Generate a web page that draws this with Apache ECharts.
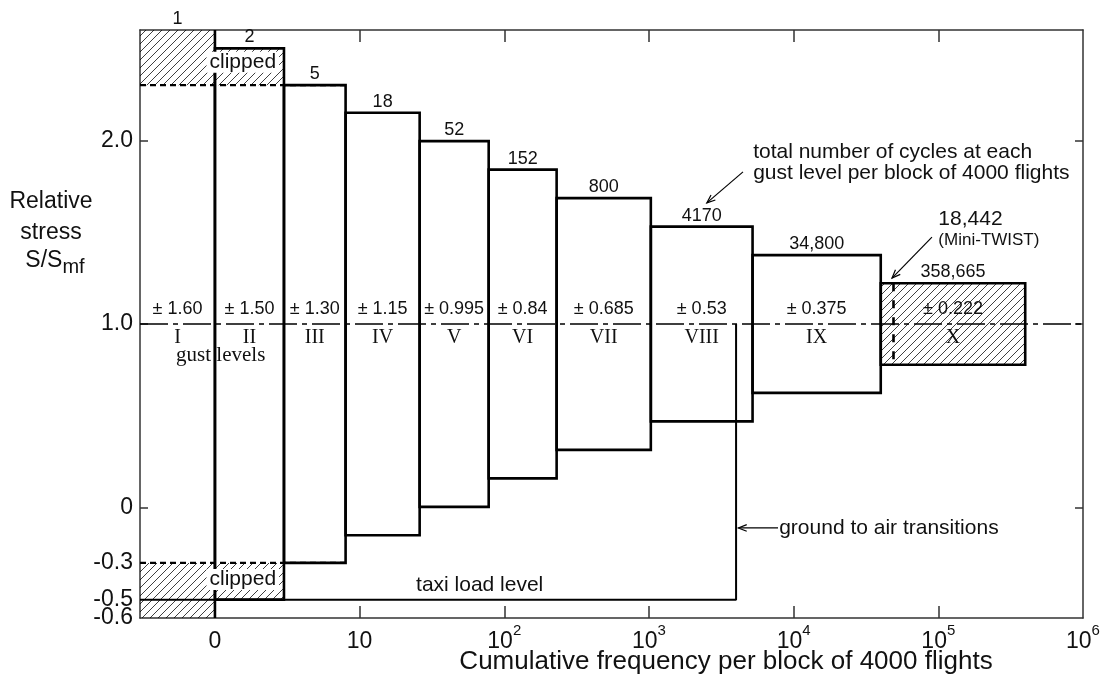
<!DOCTYPE html>
<html>
<head>
<meta charset="utf-8">
<script src="https://cdn.jsdelivr.net/npm/echarts@6/dist/echarts.min.js"></script>
<style>
  html, body { margin: 0; padding: 0; background: #fff; }
  #chart { width: 1114px; height: 682px; }
</style>
</head>
<body>
<div id="chart"></div>
<script>
// gust levels of the block, highest (I) to lowest (X)
const levels = ['I', 'II', 'III', 'IV', 'V', 'VI', 'VII', 'VIII', 'IX', 'X']
const amplitudes = [1.60, 1.50, 1.30, 1.15, 0.995, 0.84, 0.685, 0.53, 0.375, 0.222]
const ampLabels = ['± 1.60', '± 1.50', '± 1.30', '± 1.15', '± 0.995', '± 0.84', '± 0.685', '± 0.53', '± 0.375', '± 0.222']
// cycles per level in one block of 4000 flights
const cycles = [1, 2, 5, 18, 52, 152, 800, 4170, 34800, 358665]
const cycleLabels = ['1', '2', '5', '18', '52', '152', '800', '4170', '34,800', '358,665']
const meanStress = 1.0
const clipUpper = 2.3
const clipLower = -0.3
const taxiLevel = -0.5
const groundAirTransitions = 4000
const miniTwistMark = 49000 // dashed mark inside level X
const miniTwistMarkRange = [1.222, 0.8]
const hatchedLevels = ['X']

// axes (x in log10 of cumulative frequency)
const xMin = -0.518
const xMax = 6
const yMin = -0.6
const yMax = 2.6
const xLabelValues = [0, 1, 2, 3, 4, 5, 6]
const xTickValues = [1, 2, 3, 4, 5]
const yLabelValues = [-0.5, -0.3, 0, 1, 2]
const yBottomLabel = [-0.6] // on its own axis so it is not dropped as overlapping
const yTickValues = [0, 1, 2]

const SANS = 'Liberation Sans'
const SERIF = 'Liberation Serif'
const INK = '#111'

// cumulative frequency at the right edge of each level
const cumulative = []
cycles.reduce((s, c) => { cumulative.push(s + c); return s + c }, 0)

const blocks = levels.map((lv, i) => [
  i === 0 ? xMin : Math.log10(cumulative[i - 1]),
  Math.log10(cumulative[i]),
  meanStress - amplitudes[i],
  meanStress + amplitudes[i],
])

// parts of the levels that were clipped
const clippedParts = []
blocks.forEach((b) => {
  if (b[3] > clipUpper) clippedParts.push([b[0], b[1], clipUpper, b[3]])
  if (b[2] < clipLower) clippedParts.push([b[0], b[1], b[2], clipLower])
})
const clipRight = Math.max(...clippedParts.map((p) => p[1]))

// annotation placements, in axis units
const notes = [
  { text: 'total number of cycles at each\ngust level per block of 4000 flights', at: [3.72, 1.879], size: 21, align: 'left' },
  { text: '18,442', at: [5.0, 1.571], size: 21, align: 'left' },
  { text: '(Mini-TWIST)', at: [5.0, 1.457], size: 17, align: 'left' },
  { text: 'ground to air transitions', at: [3.9, -0.11], size: 21, align: 'left' },
  { text: 'taxi load level', at: [1.39, -0.42], size: 21, align: 'left' },
  { text: 'gust levels', at: [0.04, 0.83], size: 21, align: 'center', serif: true },
  { text: 'clipped', at: [(xMin + clipRight) / 2, 2.425], size: 21, align: 'center', boxed: true },
  { text: 'clipped', at: [(xMin + clipRight) / 2, -0.39], size: 21, align: 'center', boxed: true },
]
const pointers = [
  [[3.65, 1.828], [3.40, 1.659]],
  [[4.956, 1.473], [4.68, 1.25]],
  [[3.892, -0.11], [3.618, -0.11]],
]

function makeHatch() {
  const s = 8
  const c = document.createElement('canvas')
  c.width = s
  c.height = s
  const ctx = c.getContext('2d')
  ctx.strokeStyle = '#000'
  ctx.lineWidth = 0.75
  ctx.beginPath()
  ctx.moveTo(0, s); ctx.lineTo(s, 0)
  ctx.moveTo(-1, 1); ctx.lineTo(1, -1)
  ctx.moveTo(s - 1, s + 1); ctx.lineTo(s + 1, s - 1)
  ctx.stroke()
  return { image: c, repeat: 'repeat' }
}
const hatch = makeHatch()

function txt(x, y, text, size, family, align) {
  return {
    type: 'text', x, y,
    style: { text, fontSize: size, fontFamily: family, fill: INK, align: align || 'center', verticalAlign: 'middle' },
  }
}

function renderBlock(params, api) {
  const i = params.dataIndex
  const tl = api.coord([api.value(0), api.value(3)])
  const br = api.coord([api.value(1), api.value(2)])
  const cx = (tl[0] + br[0]) / 2
  const mid = api.coord([0, meanStress])[1]
  const children = []
  if (i === 0) {
    children.push({ type: 'line', shape: { x1: br[0], y1: tl[1], x2: br[0], y2: br[1] }, style: { stroke: '#000', lineWidth: 2.6 } })
  } else {
    children.push({
      type: 'rect',
      shape: { x: tl[0], y: tl[1], width: br[0] - tl[0], height: br[1] - tl[1] },
      style: { fill: hatchedLevels.includes(levels[i]) ? hatch : null, stroke: '#000', lineWidth: 2.6 },
    })
  }
  children.push(txt(cx, tl[1] - 11, cycleLabels[i], 18, SANS))
  children.push(txt(cx, mid - 15, ampLabels[i], 18, SANS))
  children.push(txt(cx, mid + 14, levels[i], 20, SERIF))
  return { type: 'group', children }
}

function renderClipped(params, api) {
  const tl = api.coord([api.value(0), api.value(3)])
  const br = api.coord([api.value(1), api.value(2)])
  return {
    type: 'rect',
    shape: { x: tl[0], y: tl[1], width: br[0] - tl[0], height: br[1] - tl[1] },
    style: { fill: hatch, stroke: null },
  }
}

function arrow(a, b) {
  const ang = Math.atan2(b[1] - a[1], b[0] - a[0])
  const L = 9, w = 0.38
  const p1 = [b[0] - L * Math.cos(ang - w), b[1] - L * Math.sin(ang - w)]
  const p2 = [b[0] - L * Math.cos(ang + w), b[1] - L * Math.sin(ang + w)]
  return [
    { type: 'line', shape: { x1: a[0], y1: a[1], x2: b[0], y2: b[1] }, style: { stroke: '#000', lineWidth: 1.2 } },
    { type: 'polyline', shape: { points: [p1, b, p2] }, style: { stroke: '#000', lineWidth: 1.2, fill: null } },
  ]
}

function renderNotes(params, api) {
  const children = []
  notes.forEach((n) => {
    const p = api.coord(n.at)
    const t = txt(p[0], p[1], n.text, n.size, n.serif ? SERIF : SANS, n.align)
    t.style.lineHeight = 21
    if (n.boxed) {
      t.style.backgroundColor = '#fff'
      t.style.padding = [0, 3]
    }
    children.push(t)
  })
  pointers.forEach((pt) => {
    children.push(...arrow(api.coord(pt[0]), api.coord(pt[1])))
  })
  return { type: 'group', children }
}

const chart = echarts.init(document.getElementById('chart'), null, { renderer: 'canvas' })

const axisLine = { show: true, onZero: false, lineStyle: { color: '#333', width: 1.5 } }
const xRich = {
  b: { fontSize: 23, fontFamily: SANS, color: INK, lineHeight: 30, verticalAlign: 'bottom' },
  s: { fontSize: 15, fontFamily: SANS, color: INK, lineHeight: 18, verticalAlign: 'top' },
}
const yLabelStyle = {
  margin: 7, fontSize: 23, fontFamily: SANS, color: INK,
  showMinLabel: true, showMaxLabel: true, hideOverlap: false,
  formatter: (v) => (Math.abs(v) < 1e-9 ? '0' : v.toFixed(1)),
}

const option = {
  animation: false,
  grid: { left: 140, right: 31, top: 30, bottom: 64, containLabel: false, outerBoundsMode: 'none' },
  xAxis: [
    {
      type: 'value', min: xMin, max: xMax, position: 'bottom',
      axisLine,
      axisTick: { show: true, inside: true, length: 12, customValues: xTickValues, lineStyle: { color: '#333', width: 1.5 } },
      axisLabel: {
        customValues: xLabelValues, margin: 5, showMinLabel: true, showMaxLabel: true,
        formatter: (v) => {
          const n = Math.round(v)
          if (n === 0) return '{b|0}'
          if (n === 1) return '{b|10}'
          return '{b|10}{s|' + n + '}'
        },
        rich: xRich,
      },
      splitLine: { show: false },
    },
    {
      type: 'value', min: xMin, max: xMax, position: 'top',
      axisLine,
      axisTick: { show: true, inside: true, length: 12, customValues: xTickValues, lineStyle: { color: '#333', width: 1.5 } },
      axisLabel: { show: false },
      splitLine: { show: false },
    },
  ],
  yAxis: [
    {
      type: 'value', min: yMin, max: yMax, position: 'left',
      axisLine,
      axisTick: { show: true, inside: true, length: 8, customValues: yTickValues, lineStyle: { color: '#333', width: 1.5 } },
      axisLabel: Object.assign({ customValues: yLabelValues }, yLabelStyle),
      splitLine: { show: false },
    },
    {
      type: 'value', min: yMin, max: yMax, position: 'right',
      axisLine,
      axisTick: { show: true, inside: true, length: 8, customValues: yTickValues, lineStyle: { color: '#333', width: 1.5 } },
      axisLabel: { show: false },
      splitLine: { show: false },
    },
    {
      type: 'value', min: yMin, max: yMax, position: 'left',
      axisLine: { show: false, onZero: false },
      axisTick: { show: false },
      axisLabel: Object.assign({ customValues: yBottomLabel }, yLabelStyle),
      splitLine: { show: false },
    },
  ],
  graphic: [
    { type: 'text', x: 51, y: 202, style: { text: 'Relative', fontSize: 23, fontFamily: SANS, fill: INK, align: 'center', verticalAlign: 'middle' } },
    { type: 'text', x: 51, y: 233, style: { text: 'stress', fontSize: 23, fontFamily: SANS, fill: INK, align: 'center', verticalAlign: 'middle' } },
    {
      type: 'text', x: 55, y: 263,
      style: {
        text: '{a|S/S}{b|mf}', align: 'center', verticalAlign: 'middle',
        rich: {
          a: { fontSize: 23, fontFamily: SANS, fill: INK, lineHeight: 28, verticalAlign: 'top' },
          b: { fontSize: 20, fontFamily: SANS, fill: INK, lineHeight: 16, verticalAlign: 'bottom' },
        },
      },
    },
    { type: 'text', x: 726, y: 662, style: { text: 'Cumulative frequency per block of 4000 flights', fontSize: 26, fontFamily: SANS, fill: INK, align: 'center', verticalAlign: 'middle' } },
  ],
  series: [
    {
      name: 'clipped', type: 'custom', silent: true, z: 1,
      renderItem: renderClipped, data: clippedParts,
    },
    {
      name: 'levels', type: 'custom', silent: true, z: 3,
      renderItem: renderBlock, data: blocks,
    },
    {
      name: 'clip lines', type: 'line', symbol: 'none', silent: true, z: 4,
      lineStyle: { color: '#000', width: 2.4, type: [6, 4] },
      data: [[xMin, clipUpper], [clipRight, clipUpper], null, [xMin, clipLower], [clipRight, clipLower]],
      connectNulls: false,
    },
    {
      name: 'taxi', type: 'line', symbol: 'none', silent: true, z: 4,
      lineStyle: { color: '#000', width: 2 },
      data: [[xMin, taxiLevel], [Math.log10(groundAirTransitions), taxiLevel], [Math.log10(groundAirTransitions), meanStress]],
    },
    {
      name: 'mean', type: 'line', symbol: 'none', silent: true, z: 4,
      lineStyle: { color: '#000', width: 1.4, type: [28, 5, 5, 5] },
      data: [[xMin, meanStress], [xMax, meanStress]],
    },
    {
      name: 'mini-twist', type: 'line', symbol: 'none', silent: true, z: 4,
      lineStyle: { color: '#000', width: 2.6, type: [8, 9] },
      data: miniTwistMarkRange.map((y) => [Math.log10(miniTwistMark), y]),
    },
    {
      name: 'notes', type: 'custom', silent: true, z: 5,
      renderItem: renderNotes, data: [[0, 0]],
    },
  ],
}

chart.setOption(option)
</script>
</body>
</html>
